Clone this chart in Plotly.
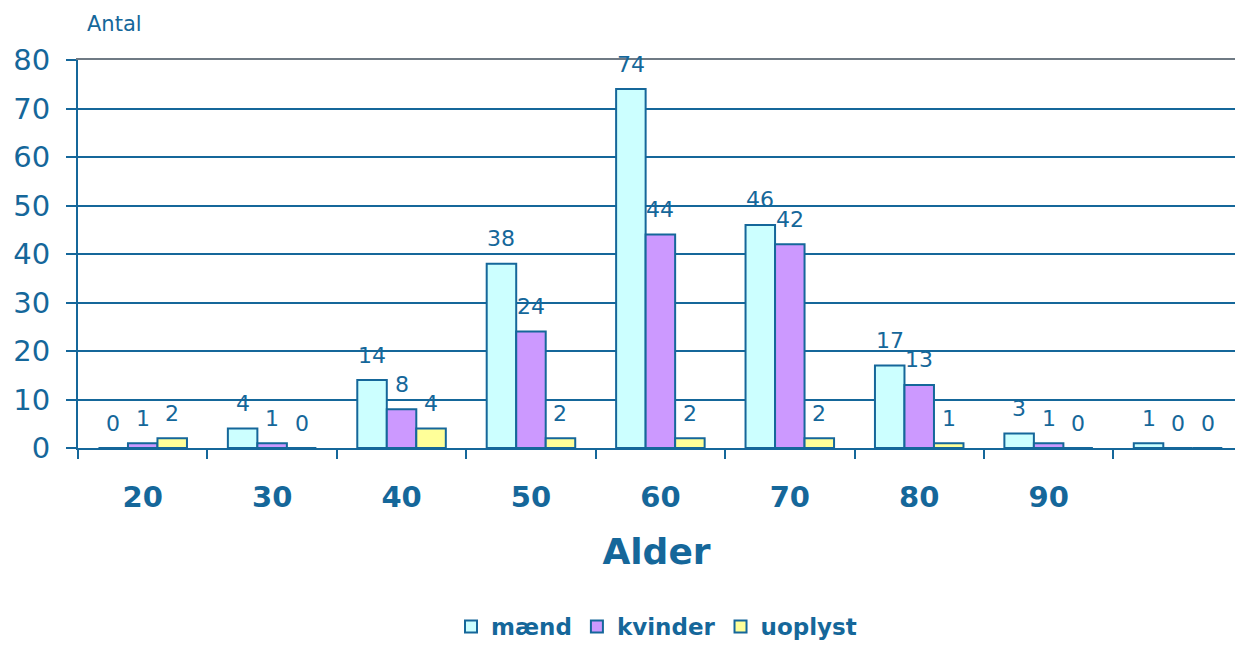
import plotly.graph_objects as go
import numpy as np

categories = ["20", "30", "40", "50", "60", "70", "80", "90", ""]
maend = [0, 4, 14, 38, 74, 46, 17, 3, 1]
kvinder = [1, 1, 8, 24, 44, 42, 13, 1, 0]
uoplyst = [2, 0, 4, 2, 2, 2, 1, 0, 0]
series_names = ["mænd", "kvinder", "uoplyst"]
series_colors = ["#ccffff", "#cc99ff", "#ffff99"]
y_ticks = [0, 10, 20, 30, 40, 50, 60, 70, 80]

BLUE = "#15679a"
FONT = "DejaVu Sans, Verdana, sans-serif"
bw = 0.228

idx = np.arange(len(categories))
fig = go.Figure()
annotations = []
for j, (name, vals, col) in enumerate(zip(series_names, [maend, kvinder, uoplyst], series_colors)):
    xs = idx + (j - 1) * bw
    fig.add_trace(go.Bar(
        x=xs, y=vals, width=bw, name=f"<b>{name}</b>",
        marker=dict(color=col, line=dict(color=BLUE, width=2)),
    ))
    for x, v in zip(xs, vals):
        annotations.append(dict(x=x, y=v, xref="x", yref="y", text=str(v), showarrow=False,
                                yshift=25, font=dict(size=22, color=BLUE, family=FONT)))

annotations.append(dict(x=0.006, y=1.0, xref="paper", yref="paper", xanchor="left", yanchor="bottom",
                        yshift=22, text="Antal", showarrow=False,
                        font=dict(size=21, color=BLUE, family=FONT)))

xr = [-0.5, 8.44]
fig.update_layout(
    width=1235, height=648,
    margin=dict(l=78, r=0, t=60, b=198),
    paper_bgcolor="white", plot_bgcolor="white",
    barmode="overlay",
    font=dict(family=FONT, color=BLUE),
    showlegend=True,
    legend=dict(orientation="h", x=0.5, xanchor="center", y=-0.405, yanchor="top",
                font=dict(size=23, color=BLUE, family=FONT),
                itemwidth=30, traceorder="normal"),
    annotations=annotations,
    xaxis=dict(range=xr, tickvals=list(idx), ticktext=[f"<b>{c}</b>" for c in categories],
               ticks="", showline=True, linecolor=BLUE, linewidth=2, showgrid=False,
               zeroline=False, tickfont=dict(size=29, color=BLUE), ticklabelstandoff=22,
               title=dict(text="<b>Alder</b>", font=dict(size=36, color=BLUE), standoff=26)),
    xaxis2=dict(range=xr, overlaying="x", side="bottom", tickvals=list(idx - 0.5) + [len(categories) - 0.5],
                ticks="outside", ticklen=10, tickwidth=2, tickcolor=BLUE, showticklabels=False,
                showline=False, showgrid=False, zeroline=False),
    xaxis3=dict(range=xr, overlaying="x", side="top", showline=True, linecolor="#6f7a84", linewidth=2,
                ticks="", showticklabels=False, showgrid=False, zeroline=False),
    yaxis=dict(range=[0, 80], tickvals=y_ticks, ticks="outside", ticklen=10, tickwidth=2, tickcolor=BLUE,
               showline=True, linecolor=BLUE, linewidth=2, showgrid=True, gridcolor=BLUE, gridwidth=1.5,
               zeroline=False, tickfont=dict(size=29, color=BLUE), ticklabelstandoff=10),
)
fig.add_trace(go.Scatter(x=xr, y=[0, 0], xaxis="x2", mode="none", showlegend=False, hoverinfo="skip"))
fig.add_trace(go.Scatter(x=xr, y=[0, 0], xaxis="x3", mode="none", showlegend=False, hoverinfo="skip"))

fig.write_html("out.html")
